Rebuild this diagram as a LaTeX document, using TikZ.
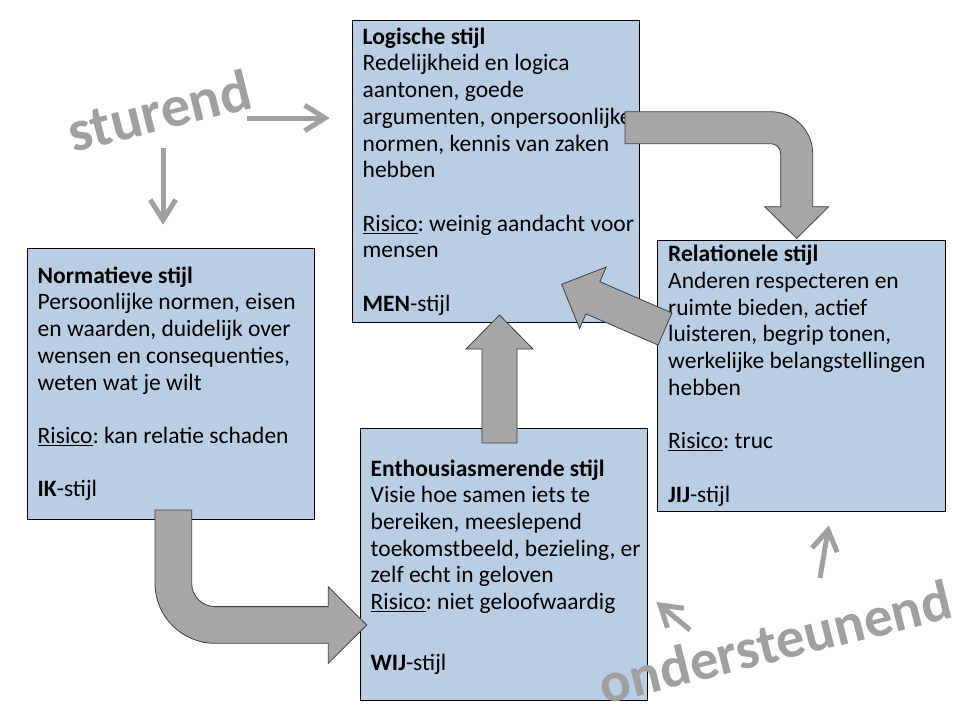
\documentclass[tikz,border=0pt]{standalone}
\usepackage{fontspec}
\setmainfont{Carlito}
\usetikzlibrary{calc, positioning}

\definecolor{boxblauw}{RGB}{185,205,229}
\definecolor{pijlgrijs}{RGB}{166,166,166}
\definecolor{pijlrand}{RGB}{64,64,64}
\definecolor{tekstgrijs}{RGB}{160,160,160}

% rechte blokpijl langs de x-as, lengte #1
\newcommand{\rechtepijl}[1]{%
  \filldraw[pijlvlak] (0,-17.5) -- ({#1-34},-17.5) -- ({#1-34},-33.5) -- (#1,0)
    -- ({#1-34},33.5) -- ({#1-34},17.5) -- (0,17.5) -- cycle;}

% dunne pijl van #1 naar #2 met open punt
\newcommand{\dunnepijl}[2]{%
  \draw[dunlijn] (#1) -- (#2);
  \draw[dunlijn] ($(#2)!24pt!32:(#1)$) -- (#2) -- ($(#2)!24pt!-32:(#1)$);}

\begin{document}
\begin{tikzpicture}[
  x=1pt, y=-1pt,
  stijlbox/.style={
    draw=black,
    fill=boxblauw,
    line width=1pt,
    anchor=north west,
    minimum width=287.5pt,
    minimum height=#1,
    inner sep=0pt
    },
  stijltekst/.style={align=left, inner sep=0pt, font=\fontsize{23.5}{26.7}\selectfont\frenchspacing},
  pijlvlak/.style={fill=pijlgrijs, draw=pijlrand, line width=0.8pt, line join=miter},
  dunlijn/.style={draw=tekstgrijs, line width=5pt, line join=miter},
  richting/.style={text=tekstgrijs, font=\bfseries\fontsize{#1}{62}\selectfont, anchor=base, rotate=14}
]

\fill[white] (0,0) rectangle (960,720);
\useasboundingbox (0,0) rectangle (960,720);

% de vier stijlen
\node[stijlbox=302pt] (logisch) at (351.5,20) {};
\node[stijltekst, right=11pt of logisch.west] (logischtekst)
  {\textbf{Logische stijl}\\
   Redelijkheid en logica\\
   aantonen, goede\\
   argumenten, onpersoonlijke\\
   normen, kennis van zaken\\
   hebben\\[26.7pt]
   \underline{Risico}: weinig aandacht voor\\
   mensen\\[26.7pt]
   \textbf{MEN}-stijl};

\node[stijlbox=271.5pt] (normatief) at (26.5,247.5) {};
\node[stijltekst, right=11pt of normatief.west] (normatieftekst)
  {\textbf{Normatieve stijl}\\
   Persoonlijke normen, eisen\\
   en waarden, duidelijk over\\
   wensen en consequenties,\\
   weten wat je wilt\\[26.7pt]
   \underline{Risico}: kan relatie schaden\\[26.7pt]
   \textbf{IK}-stijl};

\node[stijlbox=271.5pt] (relationeel) at (657,239.5) {};
\node[stijltekst, right=11pt of relationeel.west] (relationeeltekst)
  {\textbf{Relationele stijl}\\
   Anderen respecteren en\\
   ruimte bieden, actief\\
   luisteren, begrip tonen,\\
   werkelijke belangstellingen\\
   hebben\\[26.7pt]
   \underline{Risico}: truc\\[26.7pt]
   \textbf{JIJ}-stijl};

\node[stijlbox=271.5pt] (enthousiast) at (359.5,428) {};
\node[stijltekst, right=11pt of enthousiast.west, yshift=-3pt] (enthousiasttekst)
  {\textbf{Enthousiasmerende stijl}\\
   Visie hoe samen iets te\\
   bereiken, meeslepend\\
   toekomstbeeld, bezieling, er\\
   zelf echt in geloven\\
   \underline{Risico}: niet geloofwaardig\\[34.7pt]
   \textbf{WIJ}-stijl};

% blokpijlen
\coordinate (omhoog) at (499.5,443);
\coordinate (schuin) at (665,329);
\begin{scope}[shift={(omhoog)}, rotate=90]
  \rechtepijl{128}
\end{scope}
\begin{scope}[shift={(schuin)}, rotate=156.6]
  \rechtepijl{112.6}
\end{scope}

\filldraw[pijlvlak] (625,111.7) -- (770.7,111.7)
  .. controls (793.9,111.7) and (812.7,130.5) .. (812.7,153.7)
  -- (812.7,206.7) -- (828.7,206.7) -- (796.7,238.3) -- (764.7,206.7) -- (780.7,206.7)
  -- (780.7,153.7) .. controls (780.7,148.2) and (776.2,143.7) .. (770.7,143.7)
  -- (625,143.7) -- cycle;

\filldraw[pijlvlak] (155,510) -- (155,583.3)
  .. controls (155,616.4) and (181.9,643.3) .. (215,643.3)
  -- (328.3,643.3) -- (328.3,663.3) -- (366.7,625) -- (328.3,586.7) -- (328.3,606.6)
  -- (215,606.6) .. controls (202.1,606.6) and (191.7,596.2) .. (191.7,583.3)
  -- (191.7,510) -- cycle;

% sturend / ondersteunend
\node[richting=58.5] (sturend) at (164,130) {sturend};
\node[richting=57] (ondersteunend) at (780,661) {ondersteunend};

\coordinate (s1) at (247,118);
\coordinate (s2) at (325,118);
\coordinate (s3) at (163,148);
\coordinate (s4) at (163,220);
\coordinate (o1) at (690,630);
\coordinate (o2) at (660,605);
\coordinate (o3) at (820,578);
\coordinate (o4) at (828,530);
\dunnepijl{s1}{s2}
\dunnepijl{s3}{s4}
\dunnepijl{o1}{o2}
\dunnepijl{o3}{o4}

\end{tikzpicture}
\end{document}
